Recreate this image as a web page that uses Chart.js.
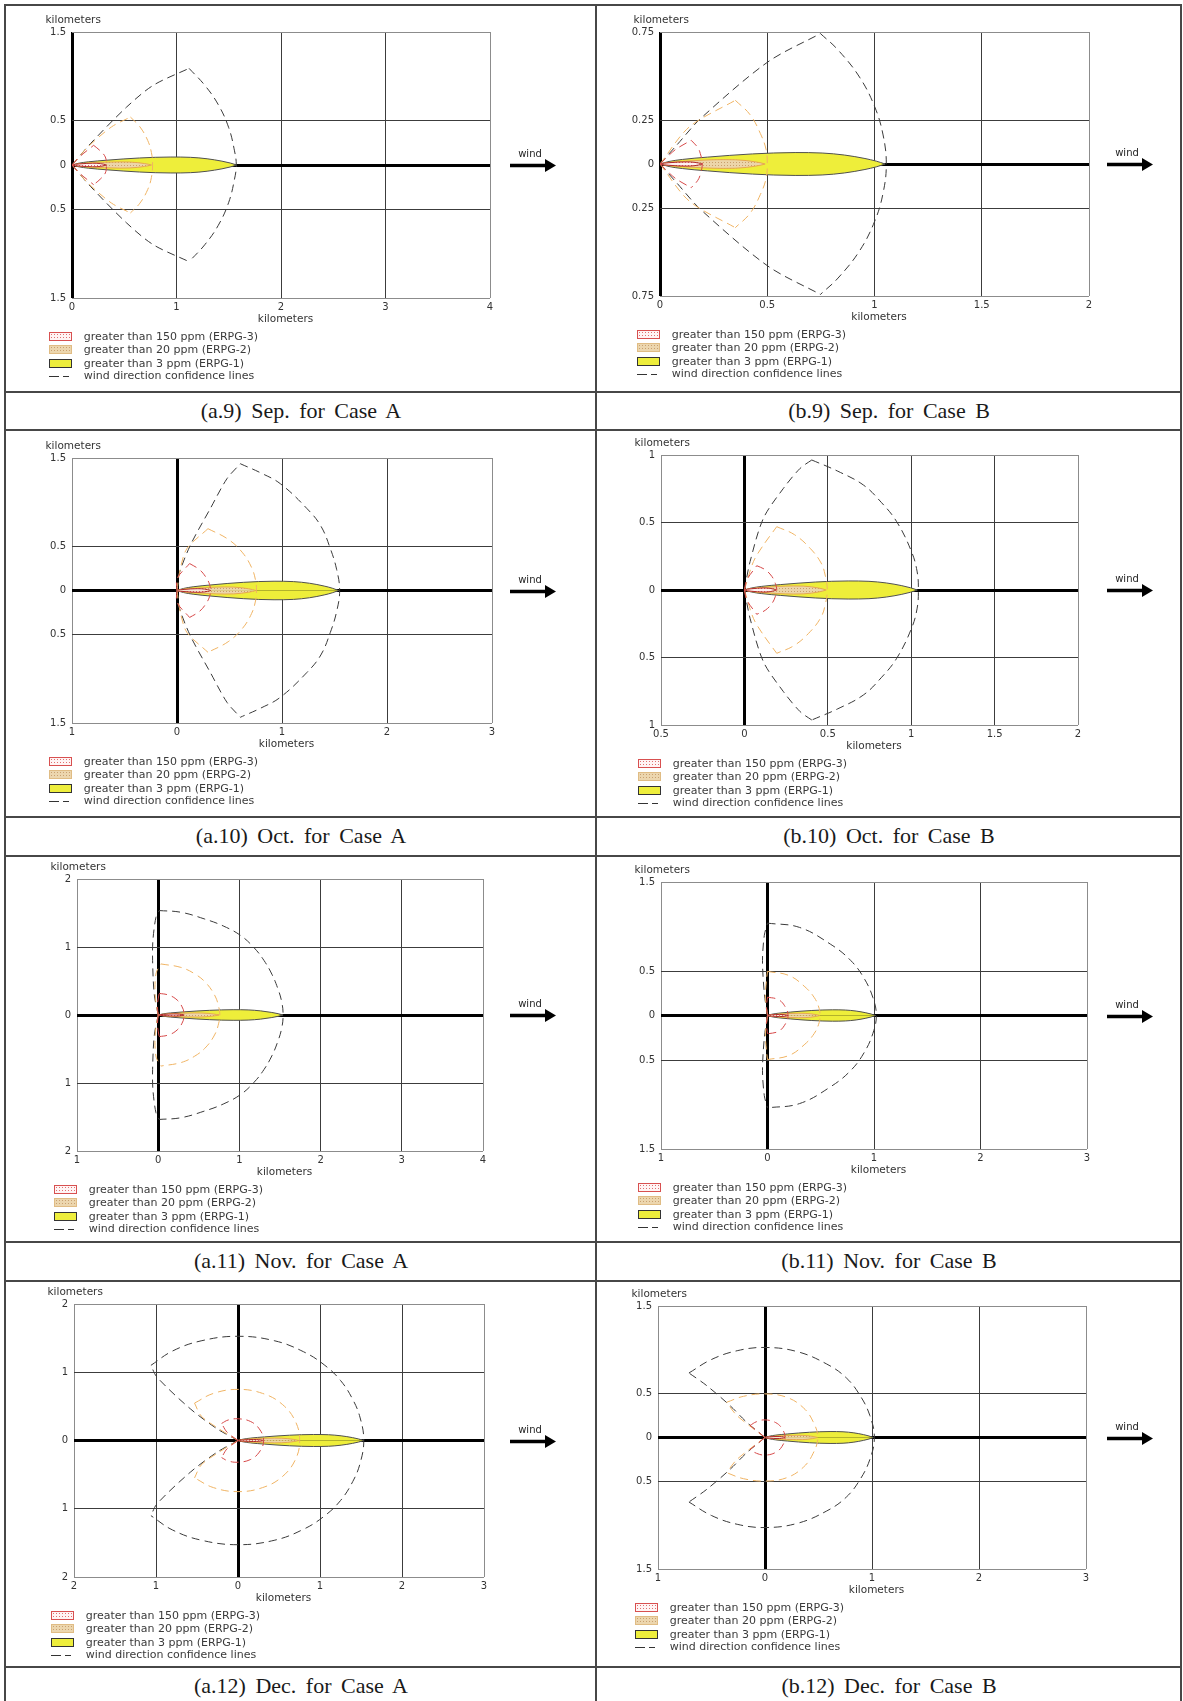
<!DOCTYPE html>
<html><head><meta charset="utf-8">
<script src="https://cdn.jsdelivr.net/npm/chart.js@4.4.1/dist/chart.umd.min.js"></script>
<style>
html,body{margin:0;padding:0;background:#fff;}
body{width:1183px;height:1701px;position:relative;overflow:hidden;font-family:'DejaVu Sans',Verdana,sans-serif;}
.ln{position:absolute;background:#474747;}
.cap{position:absolute;font-family:'Liberation Serif','DejaVu Serif',serif;font-size:22px;color:#1a1a1a;white-space:nowrap;transform:translate(-50%,-50%);word-spacing:4px;}
.cv{position:absolute;}
.ttl{position:absolute;font-size:10.5px;color:#333;white-space:nowrap;line-height:12px;}
.lg{position:absolute;font-size:11px;color:#3a3a3a;white-space:nowrap;line-height:13px;}
.sw{position:absolute;width:23px;height:9px;box-sizing:border-box;}
.sw3{border:1px solid #d85050;background-color:#fff4f4;background-image:radial-gradient(#e07070 0.7px,transparent 0.9px);background-size:3px 3px;}
.sw2{border:1px solid #e0bc84;background-color:#ecd6ae;background-image:radial-gradient(#c9a070 0.7px,transparent 0.9px);background-size:3px 3px;}
.sw1{border:1.5px solid #333;background:#eeee3c;}
.dash{position:absolute;height:1px;background:#333;}
</style></head><body>
<script>
// ---------------- data (km) ----------------
const CAPTIONS = ['(a.9) Sep. for Case A','(b.9) Sep. for Case B','(a.10) Oct. for Case A','(b.10) Oct. for Case B',
                  '(a.11) Nov. for Case A','(b.11) Nov. for Case B','(a.12) Dec. for Case A','(b.12) Dec. for Case B'];
const LEGEND_LABELS = ['greater than 150 ppm (ERPG-3)','greater than 20 ppm (ERPG-2)','greater than 3 ppm (ERPG-1)','wind direction confidence lines'];
const AXIS_TITLE = 'kilometers';
const WIND_LABEL = 'wind';

const X_TICKS_A9 = [0,1,2,3,4],        Y_TICKS_A9 = [-1.5,-0.5,0,0.5,1.5];
const X_TICKS_B9 = [0,0.5,1,1.5,2],    Y_TICKS_B9 = [-0.75,-0.25,0,0.25,0.75];
const X_TICKS_A10 = [-1,0,1,2,3],      Y_TICKS_A10 = [-1.5,-0.5,0,0.5,1.5];
const X_TICKS_B10 = [-0.5,0,0.5,1,1.5,2], Y_TICKS_B10 = [-1,-0.5,0,0.5,1];
const X_TICKS_A11 = [-1,0,1,2,3,4],    Y_TICKS_A11 = [-2,-1,0,1,2];
const X_TICKS_B11 = [-1,0,1,2,3],      Y_TICKS_B11 = [-1.5,-0.5,0,0.5,1.5];
const X_TICKS_A12 = [-2,-1,0,1,2,3],   Y_TICKS_A12 = [-2,-1,0,1,2];
const X_TICKS_B12 = [-1,0,1,2,3],      Y_TICKS_B12 = [-1.5,-0.5,0,0.5,1.5];

// threat zone footprint outline (upper half), as fraction of zone length / max half width
const PLUME_PROFILE = [[0,0],[0.04,0.22],[0.1,0.4],[0.21,0.6],[0.41,0.88],[0.6,1.0],[0.72,0.96],[0.82,0.78],[0.91,0.48],[0.96,0.25],[1,0]];

// [zone length, max half width] for ERPG-1, ERPG-2, ERPG-3
const PLUME_A9  = [[1.577,0.09],[0.76,0.035],[0.33,0.02]];
const PLUME_B9  = [[1.05,0.065],[0.49,0.025],[0.197,0.012]];
const PLUME_A10 = [[1.54,0.105],[0.75,0.04],[0.32,0.02]];
const PLUME_B10 = [[1.037,0.067],[0.49,0.03],[0.19,0.015]];
const PLUME_A11 = [[1.538,0.078],[0.75,0.03],[0.32,0.015]];
const PLUME_B11 = [[1.015,0.064],[0.49,0.025],[0.19,0.012]];
const PLUME_A12 = [[1.534,0.088],[0.74,0.035],[0.31,0.015]];
const PLUME_B12 = [[1.013,0.068],[0.49,0.025],[0.187,0.012]];

// wind direction confidence lines (upper half): source -> corner, corner -> downwind end
const RADIAL_A9 = [[[0,0],[0.176,0.24],[0.523,0.654],[0.778,0.899],[1.12,1.09]],
                   [[0,0],[0.15,0.2],[0.376,0.428],[0.559,0.541]],
                   [[0,0],[0.08,0.1],[0.207,0.222]]];
const ARC_A9 = [[[1.12,1.09],[1.27,0.9],[1.4,0.68],[1.5,0.42],[1.555,0.16],[1.572,0]],
                [[0.559,0.541],[0.65,0.43],[0.724,0.278],[0.76,0.14],[0.771,0]],
                [[0.207,0.222],[0.27,0.16],[0.319,0.09],[0.329,0]]];

const RADIAL_B9 = [[[0,0],[0.08,0.11],[0.189,0.258],[0.503,0.58],[0.748,0.741]],
                   [[0,0],[0.136,0.21],[0.351,0.362]],
                   [[0,0],[0.07,0.08],[0.145,0.135]]];
const ARC_B9 = [[[0.748,0.741],[0.83,0.648],[0.93,0.494],[1.001,0.325],[1.04,0.165],[1.055,0]],
                [[0.351,0.362],[0.42,0.28],[0.468,0.173],[0.495,0.08],[0.5,0]],
                [[0.145,0.135],[0.175,0.095],[0.188,0.059],[0.197,0]]];

const RADIAL_A10 = [[[0,0],[0.016,0.173],[0.127,0.512],[0.317,0.927],[0.476,1.266],[0.603,1.435]],
                    [[0,0],[0.032,0.249],[0.095,0.475],[0.295,0.7]],
                    [[0,0],[0,0.135],[0.12,0.305]]];
const ARC_A10 = [[[0.603,1.435],[0.8,1.33],[0.984,1.209],[1.238,0.927],[1.37,0.73],[1.46,0.475],[1.52,0.24],[1.549,0]],
                 [[0.295,0.7],[0.487,0.58],[0.62,0.434],[0.711,0.259],[0.75,0.105],[0.757,0]],
                 [[0.12,0.305],[0.21,0.24],[0.27,0.16],[0.31,0.07],[0.317,0]]];

const RADIAL_B10 = [[[0,0],[0.034,0.21],[0.114,0.531],[0.234,0.753],[0.334,0.901],[0.404,0.963]],
                    [[0,0],[0.054,0.21],[0.114,0.333],[0.194,0.469]],
                    [[0,0],[0.014,0.074],[0.074,0.18]]];
const ARC_B10 = [[[0.404,0.963],[0.56,0.88],[0.713,0.778],[0.82,0.65],[0.913,0.506],[1.0,0.29],[1.035,0.14],[1.043,0]],
                 [[0.194,0.469],[0.3,0.41],[0.394,0.309],[0.46,0.2],[0.484,0.111],[0.497,0]],
                 [[0.074,0.18],[0.125,0.15],[0.165,0.1],[0.185,0.05],[0.194,0]]];

const RADIAL_A11 = [[[0,0],[-0.049,0.309],[-0.069,0.8],[-0.065,1.1],[-0.028,1.437],[0.012,1.536]],
                    [[0,0],[-0.03,0.2],[-0.04,0.406],[-0.025,0.62],[0.033,0.751]],
                    [[0,0],[-0.01,0.15],[0.012,0.318]]];
const ARC_A11 = [[[0.012,1.536],[0.279,1.511],[0.566,1.414],[0.8,1.31],[1.017,1.168],[1.18,0.99],[1.304,0.8],[1.4,0.6],[1.468,0.406],[1.52,0.2],[1.538,0]],
                 [[0.033,0.751],[0.279,0.7],[0.45,0.605],[0.59,0.47],[0.7,0.28],[0.745,0.12],[0.759,0]],
                 [[0.012,0.318],[0.12,0.296],[0.218,0.236],[0.29,0.13],[0.32,0]]];

const RADIAL_B11 = [[[0,0],[-0.03,0.25],[-0.047,0.619],[-0.03,0.9],[0,1.038]],
                    [[0,0],[-0.02,0.2],[-0.01,0.4],[0,0.495]],
                    [[0,0],[-0.01,0.1],[0,0.206]]];
const ARC_B11 = [[[0,1.038],[0.3,0.99],[0.593,0.8],[0.78,0.62],[0.906,0.42],[0.99,0.2],[1.022,0]],
                 [[0,0.495],[0.2,0.45],[0.344,0.33],[0.44,0.2],[0.485,0.08],[0.493,0]],
                 [[0,0.206],[0.1,0.18],[0.16,0.11],[0.193,0]]];

const RADIAL_A12 = [[[0,0],[-0.256,0.172],[-0.582,0.465],[-0.989,0.93],[-1.062,1.101]],
                    [[0,0],[-0.27,0.2],[-0.45,0.36],[-0.53,0.548]],
                    [[0,0],[-0.134,0.122],[-0.2,0.25]]];
const ARC_A12 = [[[-1.062,1.101],[-0.8,1.31],[-0.45,1.46],[0,1.527],[0.45,1.46],[0.8,1.3],[1.05,1.11],[1.25,0.88],[1.4,0.6],[1.49,0.33],[1.534,0]],
                 [[-0.53,0.548],[-0.3,0.69],[0,0.749],[0.3,0.69],[0.54,0.53],[0.7,0.28],[0.752,0]],
                 [[-0.2,0.25],[-0.12,0.3],[0,0.318],[0.15,0.28],[0.26,0.17],[0.313,0]]];

const RADIAL_B12 = [[[0,0],[-0.171,0.174],[-0.327,0.364],[-0.545,0.592],[-0.711,0.736]],
                    [[0,0],[-0.13,0.12],[-0.27,0.26],[-0.358,0.402]],
                    [[0,0],[-0.07,0.07],[-0.14,0.137]]];
const ARC_B12 = [[[-0.711,0.736],[-0.5,0.89],[-0.26,0.99],[0,1.027],[0.3,0.98],[0.577,0.838],[0.76,0.68],[0.889,0.478],[0.98,0.25],[1.022,0]],
                 [[-0.358,0.402],[-0.2,0.47],[0,0.497],[0.2,0.46],[0.358,0.34],[0.45,0.18],[0.493,0]],
                 [[-0.14,0.137],[-0.08,0.18],[0,0.201],[0.1,0.17],[0.16,0.1],[0.187,0]]];

// ---------------- layout & style ----------------
const PLOT_RECTS = [[72,32,490,298],[660,32,1089,296],[72,458,492,723],[661,455,1078,725],
                    [77,879,483,1151],[661,882,1087,1149],[74,1304,484,1577],[658,1306,1086,1569]];
const ROW_LINES_Y = [4,391,429,816,855,1241,1280,1666];
const COL_LINES_X = [4,595,1180];
const CAPTION_Y = [411,836,1261,1686];
const CAPTION_X = [301,889];
const ARROW_X = [510,1107];
const LINE_COLORS = ['#3a3a3a','#f0b464','#d64848'];
const EDGE_COLORS = ['#505050','#e6a850','#b02a2a'];

function makePattern(bg, dot){
  const c=document.createElement('canvas'); c.width=3; c.height=3;
  const g=c.getContext('2d'); g.fillStyle=bg; g.fillRect(0,0,3,3);
  g.fillStyle=dot; g.fillRect(1,1,1,1);
  return g.createPattern(c,'repeat');
}
const FILLS = ['#eeee3a', makePattern('#ecd5aa','#c99f6c'), makePattern('#fff0f0','#e06a6a')];

const PANELS = [
  {xt:X_TICKS_A9, yt:Y_TICKS_A9, plume:PLUME_A9, radial:RADIAL_A9, arc:ARC_A9},
  {xt:X_TICKS_B9, yt:Y_TICKS_B9, plume:PLUME_B9, radial:RADIAL_B9, arc:ARC_B9},
  {xt:X_TICKS_A10, yt:Y_TICKS_A10, plume:PLUME_A10, radial:RADIAL_A10, arc:ARC_A10},
  {xt:X_TICKS_B10, yt:Y_TICKS_B10, plume:PLUME_B10, radial:RADIAL_B10, arc:ARC_B10},
  {xt:X_TICKS_A11, yt:Y_TICKS_A11, plume:PLUME_A11, radial:RADIAL_A11, arc:ARC_A11},
  {xt:X_TICKS_B11, yt:Y_TICKS_B11, plume:PLUME_B11, radial:RADIAL_B11, arc:ARC_B11},
  {xt:X_TICKS_A12, yt:Y_TICKS_A12, plume:PLUME_A12, radial:RADIAL_A12, arc:ARC_A12},
  {xt:X_TICKS_B12, yt:Y_TICKS_B12, plume:PLUME_B12, radial:RADIAL_B12, arc:ARC_B12}
];

// ---------------- table ----------------
function el(cls, css, txt){
  const d=document.createElement('div'); d.className=cls; Object.assign(d.style, css);
  if(txt!==undefined) d.textContent=txt; document.body.appendChild(d); return d;
}
ROW_LINES_Y.forEach(y=>el('ln',{left:'4px',top:y+'px',width:'1178px',height:'2px'}));
COL_LINES_X.forEach(x=>el('ln',{left:x+'px',top:'4px',width:'2px',height:'1697px'}));
CAPTIONS.forEach((t,i)=>el('cap',{left:CAPTION_X[i%2]+'px',top:CAPTION_Y[Math.floor(i/2)]+'px'},t));

// ---------------- charts ----------------
const windArrow = {
  id:'windArrow',
  afterDraw(chart, args, opts){
    const ctx=chart.ctx, y0=Math.round(chart.scales.y.getPixelForValue(0))+0.5, sx=opts.x;
    ctx.save();
    ctx.strokeStyle='#000'; ctx.lineWidth=3.5;
    ctx.beginPath(); ctx.moveTo(sx,y0); ctx.lineTo(sx+37,y0); ctx.stroke();
    ctx.fillStyle='#000';
    ctx.beginPath(); ctx.moveTo(sx+35,y0-6.5); ctx.lineTo(sx+46,y0); ctx.lineTo(sx+35,y0+6.5); ctx.closePath(); ctx.fill();
    ctx.font='10px "DejaVu Sans"'; ctx.fillStyle='#222'; ctx.textAlign='center'; ctx.textBaseline='middle';
    ctx.fillText(WIND_LABEL, sx+20, y0-11);
    ctx.restore();
  }
};

function xy(pts){ return pts.map(([x,y])=>({x,y})); }
function flip(pts){ return pts.map(p=>({x:p.x,y:-p.y})); }

PANELS.forEach((p,i)=>{
  const [L,T,R,B]=PLOT_RECTS[i];
  const col=i%2;
  const cl=L-45, ct=T-12, cw=ARROW_X[col]+52-cl, ch=(B-T)+12+26;
  const cv=document.createElement('canvas');
  cv.className='cv'; cv.width=cw; cv.height=ch;
  Object.assign(cv.style,{left:cl+'px',top:ct+'px',width:cw+'px',height:ch+'px'});
  document.body.appendChild(cv);

  const ds=[];
  for(let k=0;k<3;k++){
    const [Lz,Wz]=p.plume[k];
    const up=PLUME_PROFILE.map(([u,v])=>({x:u*Lz,y:v*Wz}));
    const base={fill:'origin',backgroundColor:FILLS[k],borderColor:EDGE_COLORS[k],borderWidth:1,
                pointRadius:0,showLine:true,cubicInterpolationMode:'monotone',order:60-k*10};
    ds.push(Object.assign({data:up},base));
    ds.push(Object.assign({data:flip(up)},base));
    const lineBase={fill:false,borderColor:LINE_COLORS[k],borderWidth:1,borderDash:[8,5],pointRadius:0,showLine:true,order:5-k};
    const r=xy(p.radial[k]);
    ds.push(Object.assign({data:r,tension:0.3},lineBase));
    ds.push(Object.assign({data:flip(r),tension:0.3},lineBase));
    const a=xy(p.arc[k]);
    const full=a.concat(flip(a.slice(0,-1).reverse()));
    ds.push(Object.assign({data:full,tension:0.4},lineBase));
  }

  const gridColor=(ticks)=>c=>{
    if(c.tick && c.tick.value===0) return '#000';
    return (c.index===0||c.index===ticks.length-1)?'#8c8c8c':'#3c3c3c';
  };
  const gridWidth=c=>(c.tick && c.tick.value===0)?3:1;
  const tickFont={family:'DejaVu Sans',size:10};

  new Chart(cv,{
    type:'scatter',
    data:{datasets:ds},
    plugins:[windArrow],
    options:{
      responsive:false,animation:false,devicePixelRatio:1,
      layout:{padding:{left:0,top:12,right:cw-45-(R-L),bottom:0}},
      plugins:{legend:{display:false},tooltip:{enabled:false},windArrow:{x:ARROW_X[col]-cl}},
      scales:{
        x:{type:'linear',min:p.xt[0],max:p.xt[p.xt.length-1],z:1,
           afterBuildTicks:s=>{s.ticks=p.xt.map(v=>({value:v}));},
           afterFit:s=>{s.height=26;},
           grid:{drawTicks:false,color:gridColor(p.xt),lineWidth:gridWidth},
           border:{display:false},
           ticks:{padding:3,autoSkip:false,maxRotation:0,minRotation:0,font:tickFont,color:'#333',
                  callback:v=>String(Math.abs(v))}},
        y:{type:'linear',min:p.yt[0],max:p.yt[p.yt.length-1],z:1,
           afterBuildTicks:s=>{s.ticks=p.yt.map(v=>({value:v}));},
           afterFit:s=>{s.width=45;},
           grid:{drawTicks:false,color:gridColor(p.yt),lineWidth:gridWidth},
           border:{display:false},
           ticks:{padding:6,autoSkip:false,font:tickFont,color:'#333',
                  callback:v=>String(Math.abs(v))}}
      }
    }
  });

  // axis titles
  el('ttl',{left:(L-26.5)+'px',top:(T-19)+'px'},AXIS_TITLE);
  el('ttl',{left:((L+R)/2+4.5)+'px',top:(B+13.5)+'px',transform:'translateX(-50%)'},AXIS_TITLE);
  // legend
  const rows=[38.4,51.7,65,77.7];
  ['sw sw3','sw sw2','sw sw1'].forEach((c,j)=>el(c,{left:(L-23)+'px',top:(B+rows[j]-4.5)+'px'}));
  el('dash',{left:(L-23)+'px',top:(B+rows[3])+'px',width:'10px'});
  el('dash',{left:(L-9)+'px',top:(B+rows[3])+'px',width:'6px'});
  LEGEND_LABELS.forEach((t,j)=>el('lg',{left:(L+11.7)+'px',top:(B+rows[j]-6.5)+'px'},t));
});
</script>
</body></html>
